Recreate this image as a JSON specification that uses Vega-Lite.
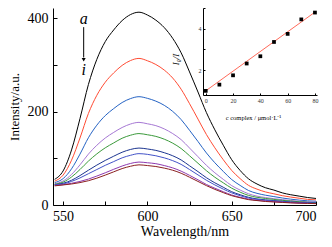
{
 "$schema": "https://vega.github.io/schema/vega-lite/v6.json",
 "width": 263, "height": 197,
 "autosize": "none",
 "padding": {"left": 53, "top": 8, "right": 16, "bottom": 42},
 "background": "white",
 "config": {"view": {"stroke": null}, "axis": {"grid": false, "domainColor": "#000", "tickColor": "#000", "labelColor": "#000", "titleColor": "#000", "labelFont": "Liberation Serif", "titleFont": "Liberation Serif", "titleFontWeight": "normal"}},
 "datasets": {
  "spectra": [
   {"s":"a","w":545,"v":55},{"s":"a","w":550,"v":73},{"s":"a","w":555,"v":118},{"s":"a","w":560,"v":185},{"s":"a","w":565,"v":258},{"s":"a","w":570,"v":312},{"s":"a","w":575,"v":350},{"s":"a","w":580,"v":375},{"s":"a","w":585,"v":395},{"s":"a","w":590,"v":408},{"s":"a","w":595,"v":413},{"s":"a","w":600,"v":407},{"s":"a","w":605,"v":396},{"s":"a","w":610,"v":380},{"s":"a","w":615,"v":357},{"s":"a","w":620,"v":326},{"s":"a","w":625,"v":285},{"s":"a","w":630,"v":242},{"s":"a","w":635,"v":198},{"s":"a","w":640,"v":161},{"s":"a","w":645,"v":128},{"s":"a","w":650,"v":97},{"s":"a","w":655,"v":74},{"s":"a","w":660,"v":56},{"s":"a","w":665,"v":45},{"s":"a","w":670,"v":37},{"s":"a","w":675,"v":32},{"s":"a","w":680,"v":26},{"s":"a","w":685,"v":22},{"s":"a","w":690,"v":19},{"s":"a","w":695,"v":16},{"s":"a","w":700,"v":14},
   {"s":"b","w":545,"v":51},{"s":"b","w":550,"v":64},{"s":"b","w":555,"v":96},{"s":"b","w":560,"v":143.5},{"s":"b","w":565,"v":196},{"s":"b","w":570,"v":235},{"s":"b","w":575,"v":263},{"s":"b","w":580,"v":283},{"s":"b","w":585,"v":299},{"s":"b","w":590,"v":309.5},{"s":"b","w":595,"v":314},{"s":"b","w":600,"v":309},{"s":"b","w":605,"v":301},{"s":"b","w":610,"v":289},{"s":"b","w":615,"v":272},{"s":"b","w":620,"v":248},{"s":"b","w":625,"v":217},{"s":"b","w":630,"v":184},{"s":"b","w":635,"v":151},{"s":"b","w":640,"v":122.5},{"s":"b","w":645,"v":97},{"s":"b","w":650,"v":74},{"s":"b","w":655,"v":56.5},{"s":"b","w":660,"v":42},{"s":"b","w":665,"v":34},{"s":"b","w":670,"v":28},{"s":"b","w":675,"v":24},{"s":"b","w":680,"v":20},{"s":"b","w":685,"v":17},{"s":"b","w":690,"v":14.5},{"s":"b","w":695,"v":12},{"s":"b","w":700,"v":11},
   {"s":"c","w":545,"v":48},{"s":"c","w":550,"v":56.5},{"s":"c","w":555,"v":77.5},{"s":"c","w":560,"v":109},{"s":"c","w":565,"v":144},{"s":"c","w":570,"v":171},{"s":"c","w":575,"v":191.5},{"s":"c","w":580,"v":206.5},{"s":"c","w":585,"v":219.5},{"s":"c","w":590,"v":228},{"s":"c","w":595,"v":232},{"s":"c","w":600,"v":228.5},{"s":"c","w":605,"v":222.5},{"s":"c","w":610,"v":213.5},{"s":"c","w":615,"v":200.5},{"s":"c","w":620,"v":183},{"s":"c","w":625,"v":160},{"s":"c","w":630,"v":136},{"s":"c","w":635,"v":111.5},{"s":"c","w":640,"v":90.5},{"s":"c","w":645,"v":72},{"s":"c","w":650,"v":54.5},{"s":"c","w":655,"v":42},{"s":"c","w":660,"v":31},{"s":"c","w":665,"v":25},{"s":"c","w":670,"v":21},{"s":"c","w":675,"v":18},{"s":"c","w":680,"v":15},{"s":"c","w":685,"v":12.5},{"s":"c","w":690,"v":10.5},{"s":"c","w":695,"v":9},{"s":"c","w":700,"v":8},
   {"s":"d","w":545,"v":45.5},{"s":"d","w":550,"v":51.5},{"s":"d","w":555,"v":65.5},{"s":"d","w":560,"v":86},{"s":"d","w":565,"v":109},{"s":"d","w":570,"v":128},{"s":"d","w":575,"v":143.5},{"s":"d","w":580,"v":155.5},{"s":"d","w":585,"v":166},{"s":"d","w":590,"v":173.5},{"s":"d","w":595,"v":177},{"s":"d","w":600,"v":174},{"s":"d","w":605,"v":170},{"s":"d","w":610,"v":163},{"s":"d","w":615,"v":153},{"s":"d","w":620,"v":140},{"s":"d","w":625,"v":122},{"s":"d","w":630,"v":103.5},{"s":"d","w":635,"v":85},{"s":"d","w":640,"v":69},{"s":"d","w":645,"v":55},{"s":"d","w":650,"v":41.5},{"s":"d","w":655,"v":32},{"s":"d","w":660,"v":24},{"s":"d","w":665,"v":19},{"s":"d","w":670,"v":16},{"s":"d","w":675,"v":13.5},{"s":"d","w":680,"v":11.5},{"s":"d","w":685,"v":9.5},{"s":"d","w":690,"v":8},{"s":"d","w":695,"v":7},{"s":"d","w":700,"v":6},
   {"s":"e","w":545,"v":44.5},{"s":"e","w":550,"v":49},{"s":"e","w":555,"v":60},{"s":"e","w":560,"v":76},{"s":"e","w":565,"v":94},{"s":"e","w":570,"v":109.5},{"s":"e","w":575,"v":122.5},{"s":"e","w":580,"v":133},{"s":"e","w":585,"v":143},{"s":"e","w":590,"v":149.5},{"s":"e","w":595,"v":153},{"s":"e","w":600,"v":150.5},{"s":"e","w":605,"v":147},{"s":"e","w":610,"v":141},{"s":"e","w":615,"v":132.5},{"s":"e","w":620,"v":121},{"s":"e","w":625,"v":105.5},{"s":"e","w":630,"v":89.5},{"s":"e","w":635,"v":73.5},{"s":"e","w":640,"v":59.5},{"s":"e","w":645,"v":47.5},{"s":"e","w":650,"v":36},{"s":"e","w":655,"v":27.5},{"s":"e","w":660,"v":20.5},{"s":"e","w":665,"v":16.5},{"s":"e","w":670,"v":14},{"s":"e","w":675,"v":12},{"s":"e","w":680,"v":10},{"s":"e","w":685,"v":8.5},{"s":"e","w":690,"v":7},{"s":"e","w":695,"v":6},{"s":"e","w":700,"v":5},
   {"s":"f","w":545,"v":43.5},{"s":"f","w":550,"v":46.5},{"s":"f","w":555,"v":53},{"s":"f","w":560,"v":63},{"s":"f","w":565,"v":74.5},{"s":"f","w":570,"v":85.5},{"s":"f","w":575,"v":95.5},{"s":"f","w":580,"v":104.5},{"s":"f","w":585,"v":113},{"s":"f","w":590,"v":119},{"s":"f","w":595,"v":122},{"s":"f","w":600,"v":120},{"s":"f","w":605,"v":117},{"s":"f","w":610,"v":112},{"s":"f","w":615,"v":105.5},{"s":"f","w":620,"v":96.5},{"s":"f","w":625,"v":84},{"s":"f","w":630,"v":71.5},{"s":"f","w":635,"v":58.5},{"s":"f","w":640,"v":47.5},{"s":"f","w":645,"v":38},{"s":"f","w":650,"v":28.5},{"s":"f","w":655,"v":22},{"s":"f","w":660,"v":16.5},{"s":"f","w":665,"v":13},{"s":"f","w":670,"v":11},{"s":"f","w":675,"v":9.5},{"s":"f","w":680,"v":8},{"s":"f","w":685,"v":6.5},{"s":"f","w":690,"v":5.5},{"s":"f","w":695,"v":5},{"s":"f","w":700,"v":4},
   {"s":"g","w":545,"v":43},{"s":"g","w":550,"v":45},{"s":"g","w":555,"v":50.5},{"s":"g","w":560,"v":58},{"s":"g","w":565,"v":67},{"s":"g","w":570,"v":76},{"s":"g","w":575,"v":85},{"s":"g","w":580,"v":93},{"s":"g","w":585,"v":101},{"s":"g","w":590,"v":106.5},{"s":"g","w":595,"v":110},{"s":"g","w":600,"v":108.5},{"s":"g","w":605,"v":105.5},{"s":"g","w":610,"v":101},{"s":"g","w":615,"v":95},{"s":"g","w":620,"v":87},{"s":"g","w":625,"v":76},{"s":"g","w":630,"v":64.5},{"s":"g","w":635,"v":53},{"s":"g","w":640,"v":43},{"s":"g","w":645,"v":34},{"s":"g","w":650,"v":26},{"s":"g","w":655,"v":20},{"s":"g","w":660,"v":15},{"s":"g","w":665,"v":12},{"s":"g","w":670,"v":10},{"s":"g","w":675,"v":8.5},{"s":"g","w":680,"v":7},{"s":"g","w":685,"v":6},{"s":"g","w":690,"v":5},{"s":"g","w":695,"v":4.5},{"s":"g","w":700,"v":4},
   {"s":"h","w":545,"v":42},{"s":"h","w":550,"v":43.5},{"s":"h","w":555,"v":46.5},{"s":"h","w":560,"v":50.5},{"s":"h","w":565,"v":55.5},{"s":"h","w":570,"v":62},{"s":"h","w":575,"v":69},{"s":"h","w":580,"v":76.5},{"s":"h","w":585,"v":83.5},{"s":"h","w":590,"v":89},{"s":"h","w":595,"v":92},{"s":"h","w":600,"v":90.5},{"s":"h","w":605,"v":88.5},{"s":"h","w":610,"v":84.5},{"s":"h","w":615,"v":79.5},{"s":"h","w":620,"v":72.5},{"s":"h","w":625,"v":63.5},{"s":"h","w":630,"v":54},{"s":"h","w":635,"v":44},{"s":"h","w":640,"v":36},{"s":"h","w":645,"v":28.5},{"s":"h","w":650,"v":21.5},{"s":"h","w":655,"v":16.5},{"s":"h","w":660,"v":12.5},{"s":"h","w":665,"v":10},{"s":"h","w":670,"v":8.5},{"s":"h","w":675,"v":7},{"s":"h","w":680,"v":6},{"s":"h","w":685,"v":5},{"s":"h","w":690,"v":4},{"s":"h","w":695,"v":3.5},{"s":"h","w":700,"v":3},
   {"s":"i","w":545,"v":41},{"s":"i","w":550,"v":43},{"s":"i","w":555,"v":45},{"s":"i","w":560,"v":48},{"s":"i","w":565,"v":52},{"s":"i","w":570,"v":57.5},{"s":"i","w":575,"v":64},{"s":"i","w":580,"v":71},{"s":"i","w":585,"v":78},{"s":"i","w":590,"v":83},{"s":"i","w":595,"v":86},{"s":"i","w":600,"v":84.5},{"s":"i","w":605,"v":82.5},{"s":"i","w":610,"v":79},{"s":"i","w":615,"v":74.5},{"s":"i","w":620,"v":68},{"s":"i","w":625,"v":59.5},{"s":"i","w":630,"v":50.5},{"s":"i","w":635,"v":41.5},{"s":"i","w":640,"v":33.5},{"s":"i","w":645,"v":26.5},{"s":"i","w":650,"v":20},{"s":"i","w":655,"v":15.5},{"s":"i","w":660,"v":11.5},{"s":"i","w":665,"v":9.5},{"s":"i","w":670,"v":7.5},{"s":"i","w":675,"v":6.5},{"s":"i","w":680,"v":5.5},{"s":"i","w":685,"v":4.5},{"s":"i","w":690,"v":4},{"s":"i","w":695,"v":3.5},{"s":"i","w":700,"v":3}
  ],
  "pts": [
   {"c":0,"r":1.0},{"c":10,"r":1.3},{"c":20,"r":1.75},{"c":30,"r":2.32},{"c":40,"r":2.67},{"c":50,"r":3.36},{"c":60,"r":3.75},{"c":70,"r":4.45},{"c":80,"r":4.78}
  ],
  "fit": [{"c":0,"r":1.0},{"c":80,"r":4.8}],
  "notes": [{"t":"a","x":562.2,"y":398},{"t":"i","x":562.2,"y":290}],
  "arrow": [{"x":562.2,"y":381,"y2":316}],
  "head": [{"x":562.2,"y":311}]
 },
 "layer": [
  {"layer": [
    {"data": {"name": "spectra"},
     "mark": {"type": "line", "strokeWidth": 1, "interpolate": "monotone"},
     "encoding": {
      "x": {"field": "w", "type": "quantitative", "scale": {"domain": [544, 700], "nice": false, "zero": false},
            "axis": {"values": [550,575,600,625,650,675,700], "labelExpr": "datum.value % 50 == 0 ? datum.label : ''", "tickSize": -4, "labelPadding": 8, "labelFontSize": 14, "title": "Wavelength/nm", "titleFontSize": 14, "titlePadding": 1}},
      "y": {"field": "v", "type": "quantitative", "scale": {"domain": [0, 422], "nice": false},
            "axis": {"values": [0,100,200,300,400], "labelExpr": "datum.value % 200 == 0 ? datum.label : ''", "tickSize": -4, "labelPadding": 9, "labelFontSize": 14, "title": "Intensity/a.u.", "titleFontSize": 13, "titlePadding": 6}},
      "color": {"field": "s", "type": "nominal", "legend": null,
                "scale": {"domain": ["a","b","c","d","e","f","g","h","i"], "range": ["#000000","#ff4b33","#2563c4","#a678d4","#3b9a3b","#1c3590","#4252c8","#8e3ab0","#8b2020"]}}
     }},
    {"data": {"name": "notes"},
     "mark": {"type": "text", "font": "Liberation Serif", "fontStyle": "italic", "fontSize": 16, "align": "center", "baseline": "middle", "color": "#000"},
     "encoding": {"x": {"field": "x", "type": "quantitative"}, "y": {"field": "y", "type": "quantitative"}, "text": {"field": "t"}}},
    {"data": {"name": "arrow"},
     "mark": {"type": "rule", "color": "#000", "strokeWidth": 1},
     "encoding": {"x": {"field": "x", "type": "quantitative"}, "y": {"field": "y", "type": "quantitative"}, "y2": {"field": "y2"}}},
    {"data": {"name": "head"},
     "mark": {"type": "point", "shape": "triangle-down", "filled": true, "size": 16, "color": "#000", "opacity": 1},
     "encoding": {"x": {"field": "x", "type": "quantitative"}, "y": {"field": "y", "type": "quantitative"}}}
  ]},
  {"layer": [
    {"data": {"name": "fit"},
     "mark": {"type": "line", "color": "#ff6a5a", "strokeWidth": 1},
     "encoding": {
      "x": {"field": "c", "type": "quantitative", "scale": {"domain": [-2, 81.5], "range": [150, 264], "nice": false, "zero": false},
            "axis": {"orient": "bottom", "offset": -110, "values": [0,10,20,30,40,50,60,70,80], "labelExpr": "datum.value % 20 == 0 ? datum.label : ''", "tickSize": -2, "labelPadding": 4, "labelFontSize": 6, "labelColor": "#333", "title": "c complex / μmol·L⁻¹", "titleFontSize": 6.5, "titleX": 200, "titleY": 22, "titleAlign": "center", "titleBaseline": "middle"}},
      "y": {"field": "r", "type": "quantitative", "scale": {"domain": [0.8, 5.0], "range": [87, 0], "nice": false, "zero": false},
            "axis": {"orient": "left", "offset": -150, "values": [1,2,3,4,5], "labelExpr": "datum.value % 2 == 0 ? datum.label : ''", "tickSize": -2, "labelPadding": 4, "labelFontSize": 6, "labelColor": "#333", "title": "I₀/I", "titleFontStyle": "italic", "titleFontSize": 9, "titleX": -28, "titleY": 51, "titleAngle": -90, "titleAlign": "center", "titleBaseline": "middle"}}
     }},
    {"data": {"name": "pts"},
     "mark": {"type": "square", "color": "#000", "size": 14, "opacity": 1},
     "encoding": {"x": {"field": "c", "type": "quantitative"}, "y": {"field": "r", "type": "quantitative"}}}
  ]}
 ],
 "resolve": {"scale": {"x": "independent", "y": "independent"}, "axis": {"x": "independent", "y": "independent"}}
}
